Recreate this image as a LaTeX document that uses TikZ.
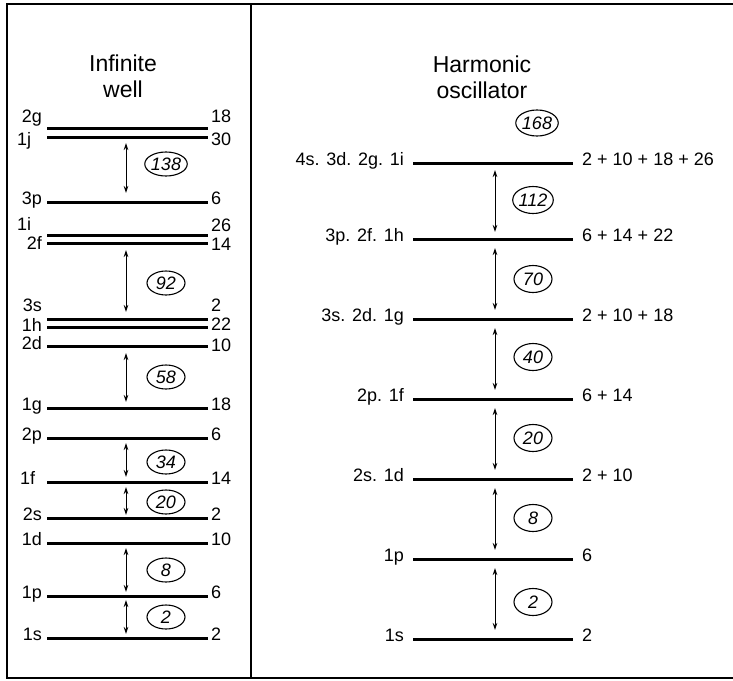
\documentclass[tikz,border=0pt]{standalone}
\usepackage{fontspec}
\setmainfont{Liberation Sans}
\usetikzlibrary{arrows.meta,shapes.geometric}
\begin{document}
\begin{tikzpicture}[x=1pt,y=-1pt,
  level/.style={line width=3pt},
  frame/.style={line width=1.5pt},
  gaparrow/.style={{Stealth[length=7pt,width=4.5pt]}-{Stealth[length=7pt,width=4.5pt]}, line width=1pt},
  magic/.style={draw, ellipse, line width=1.1pt, inner sep=0pt, minimum width=38pt, minimum height=24pt, font=\fontsize{18}{18}\selectfont\itshape},
  lab/.style={font=\fontsize{18}{18}\selectfont, inner sep=0pt},
  llab/.style={lab, anchor=mid east},
  lleft/.style={lab, anchor=mid west},
  rlab/.style={lab, anchor=mid west},
  title/.style={font=\fontsize{23}{26}\selectfont, align=center}]
\useasboundingbox (0,0) rectangle (733,680);
% frame
\coordinate (fTL) at (7,4); \coordinate (fTR) at (733,4);
\coordinate (fBL) at (7,678); \coordinate (fBR) at (733,678);
\coordinate (dT) at (251,4); \coordinate (dB) at (251,678);
\draw[frame] (fTR) -- (fTL) -- (fBL) -- (fBR);
\draw[frame] (dT) -- (dB);
% titles
\node[title] (t1) at (123,76) {Infinite\\well};
\node[title] (t2) at (482,77) {Harmonic\\oscillator};
% left levels
\foreach \n/\y in {2g/128,1j/137,3p/202,1i/235,2f/243,3s/319,1h/327,2d/346,1g/408,2p/438,1f/482,2s/518,1d/543,1p/596,1s/638}{
  \coordinate (L\n a) at (47,\y);
  \coordinate (L\n b) at (208,\y);
  \draw[level] (L\n a) -- (L\n b);
}
% left labels
\foreach \n/\t/\y in {a/2g/120,c/3p/202,e/2f/247,f/3s/309,g/1h/329,h/2d/347,i/1g/408,j/2p/438,l/2s/518,m/1d/543,n/1p/596,o/1s/638}{
  \node[llab] (ll\n) at (42,\y) {\t};
}
\node[lleft] (llb) at (17,143) {1j};
\node[lleft] (lld) at (17,228) {1i};
\node[lleft] (llk) at (20,482) {1f};
\foreach \n/\t/\y in {a/18/120,b/30/143,c/6/202,d/26/229,e/14/248,f/2/309,g/22/328,h/10/349,i/18/408,j/6/438,k/14/482,l/2/518,m/10/543,n/6/596,o/2/638}{
  \node[rlab] (lr\n) at (211,\y) {\t};
}
% left gaps
\foreach \n/\a/\b/\c in {138/143/193/164,92/250/312/283,58/353/402/377,34/443/477/462,20/487/515/502,8/548/592/570,2/600/634/617}{
  \coordinate (lg\n t) at (126,\a);
  \coordinate (lg\n b) at (126,\b);
  \draw[gaparrow] (lg\n t) -- (lg\n b);
  \node[magic] (lm\n) at (166,\c) {\n};
}
% right levels
\foreach \n/\y in {a/163,b/239,c/319,d/399,e/479,f/559,g/639}{
  \coordinate (R\n a) at (413,\y);
  \coordinate (R\n b) at (573,\y);
  \draw[level] (R\n a) -- (R\n b);
}
\foreach \n/\t/\y in {a/{4s. 3d. 2g. 1i}/163,b/{3p. 2f. 1h}/239,c/{3s. 2d. 1g}/319,d/{2p. 1f}/399,e/{2s. 1d}/479,f/{1p}/559,g/{1s}/639}{
  \node[llab] (rl\n) at (404,\y) {\t};
}
\foreach \n/\t/\y in {a/{2 + 10 + 18 + 26}/163,b/{6 + 14 + 22}/239,c/{2 + 10 + 18}/319,d/{6 + 14}/399,e/{2 + 10}/479,f/{6}/559,g/{2}/639}{
  \node[rlab] (rr\n) at (582,\y) {\t};
}
\node[magic, minimum height=26pt] (rm168) at (537,123) {168};
\foreach \n/\a/\b/\c in {112/170/232/200,70/248/310/279,40/328/390/357,20/408/470/438,8/488/550/518,2/568/630/602}{
  \coordinate (rg\n t) at (495,\a);
  \coordinate (rg\n b) at (495,\b);
  \draw[gaparrow] (rg\n t) -- (rg\n b);
  \node[magic, minimum height=27pt] (rm\n) at (533,\c) {\n};
}
\end{tikzpicture}
\end{document}
